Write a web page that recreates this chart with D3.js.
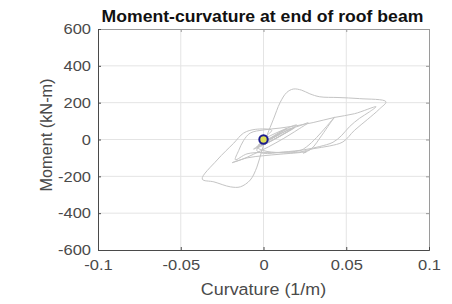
<!DOCTYPE html>
<html lang="en">
<head>
    <meta charset="UTF-8">
    <script src="https://d3js.org/d3.v7.min.js"></script>
    <title>Moment-curvature at end of roof beam</title>
    <style>
        html, body {
            margin: 0;
            padding: 0;
            background-color: #ffffff;
            font-family: "Liberation Sans", Arial, sans-serif;
        }
    </style>
</head>
<body>
    <div id="chart"></div>
    <script>

        // hysteresis path (curvature 1/m, moment kN-m)
        let curvature = [
            0, 0.004, 0.010, 0.014, 0.010, 0.003, -0.003, 0.001, 0.008, 0.016, 0.020,
            0.015, 0.007, -0.001, -0.006, -0.002, 0.006, 0.012, 0.018, 0.013, 0.005,
            0.000, 0.006, 0.015, 0.019, 0.012, 0.004, -0.004, 0.002, 0.010, 0.017, 0.022, 0.027,
            0.021, 0.012, 0.003, -0.006, -0.013, -0.019,
            -0.010, 0.000, 0.010, 0.018, 0.023, 0.026, 0.024, 0.029, 0.035, 0.040, 0.043,
            0.038, 0.032, 0.026, 0.022, 0.010, 0.000, -0.010, -0.017,
            -0.015, -0.012, -0.008, 0.000, 0.010, 0.020, 0.030, 0.043, 0.055, 0.068,
            0.064, 0.058, 0.052, 0.047, 0.042, 0.034, 0.025, 0.012, 0.000, -0.004,
            0.002, 0.005, -0.005, -0.012, -0.018, -0.028, -0.037,
            -0.030, -0.020, -0.014, -0.008, -0.004, -0.001, 0.002, 0.006, 0.010, 0.014, 0.018,
            0.023, 0.028, 0.034, 0.045, 0.058, 0.074,
            0.070, 0.063, 0.055, 0.048, 0.040, 0.030, 0.022, 0.010, 0.000, -0.004,
            0.004, 0.010, 0.005, 0
        ];
        let moment = [
            0, 20, 45, 60, 35, 0, -28, -10, 30, 68, 79,
            45, 5, -35, -52, -30, 15, 48, 62, 35, -5,
            -22, 10, 52, 65, 28, -12, -42, -10, 30, 60, 75, 91,
            55, 5, -40, -80, -108, -126,
            -100, -88, -80, -74, -70, -66, -74, -50, 20, 85, 122,
            70, 10, -40, -60, -70, -70, -78, -110,
            -60, -5, 35, 52, 62, 75, 92, 120, 140, 178,
            150, 115, 70, 20, -15, -38, -55, -68, -75, -60,
            20, 50, 55, 35, -20, -111, -215,
            -230, -257, -257, -220, -150, -60, 20, 110, 200, 255, 274,
            268, 248, 232, 228, 222, 205,
            165, 110, 50, -13, -35, -50, -68, -72, -60, -40,
            0, 30, 10, 0
        ];

        let xTicks = [-0.1, -0.05, 0, 0.05, 0.1];
        let yTicks = [-600, -400, -200, 0, 200, 400, 600];
        let marker = [0, 0];

        let width = 452, height = 304;
        let margin = {top: 29, right: 23, bottom: 54, left: 98};
        let stretch = 1.1; // the picture is a bit wider than tall

        let svg = d3.select('#chart').append('svg')
            .attr('width', width).attr('height', height);

        let x = d3.scaleLinear().domain([-0.1, 0.1]).range([margin.left, width - margin.right]);
        let y = d3.scaleLinear().domain([-600, 600]).range([height - margin.bottom, margin.top]);

        // grid
        svg.append('g').selectAll('line')
            .data(xTicks.slice(1, -1))
            .join('line')
            .attr('x1', d => x(d)).attr('x2', d => x(d))
            .attr('y1', y(-600)).attr('y2', y(600))
            .attr('stroke', '#e4e4e4');
        svg.append('g').selectAll('line')
            .data(yTicks.slice(1, -1))
            .join('line')
            .attr('y1', d => y(d)).attr('y2', d => y(d))
            .attr('x1', x(-0.1)).attr('x2', x(0.1))
            .attr('stroke', '#e4e4e4');

        // box top/right
        svg.append('g')
            .attr('transform', `translate(0,${margin.top})`)
            .call(d3.axisTop(x).tickValues(xTicks).tickSize(-3).tickFormat(''))
            .call(g => g.selectAll('path, line').attr('stroke', '#9a9a9a'));
        svg.append('g')
            .attr('transform', `translate(${width - margin.right},0)`)
            .call(d3.axisRight(y).tickValues(yTicks).tickSize(-3).tickFormat(''))
            .call(g => g.selectAll('path, line').attr('stroke', '#9a9a9a'));

        // hysteresis line
        let pts = curvature.map((c, i) => [c, moment[i]]);
        svg.append('path')
            .datum(pts)
            .attr('d', d3.line().x(d => x(d[0])).y(d => y(d[1])).curve(d3.curveCatmullRom.alpha(0.5)))
            .attr('fill', 'none')
            .attr('stroke', '#c4c4c4')
            .attr('stroke-width', 1);

        // axes
        let xAxis = svg.append('g')
            .attr('transform', `translate(0,${height - margin.bottom})`)
            .call(d3.axisBottom(x).tickValues(xTicks).tickSize(-3).tickPadding(9).tickFormat(d => String(d)));
        let yAxis = svg.append('g')
            .attr('transform', `translate(${margin.left},0)`)
            .call(d3.axisLeft(y).tickValues(yTicks).tickSize(-3).tickPadding(7).tickFormat(d => String(d)));

        [xAxis, yAxis].forEach(g => {
            g.selectAll('path, line').attr('stroke', '#4a4a4a');
            g.selectAll('text')
                .attr('font-family', '"Liberation Sans", Arial, sans-serif')
                .attr('font-size', 15)
                .attr('fill', '#4a4a4a');
        });

        // current point
        svg.append('circle')
            .attr('cx', x(marker[0])).attr('cy', y(marker[1]))
            .attr('r', 4.2)
            .attr('fill', '#dede55')
            .attr('stroke', '#1c1c8e')
            .attr('stroke-width', 2);

        // labels
        svg.append('text')
            .attr('class', 'wide')
            .attr('x', 262.5).attr('y', 22)
            .attr('text-anchor', 'middle')
            .attr('font-size', 16).attr('font-weight', 'bold')
            .attr('fill', '#111')
            .text('Moment-curvature at end of roof beam');

        svg.append('text')
            .attr('class', 'wide')
            .attr('x', x(0)).attr('y', 295)
            .attr('text-anchor', 'middle')
            .attr('font-size', 16.3).attr('fill', '#4a4a4a')
            .text('Curvature (1/m)');

        svg.append('text')
            .attr('transform', `translate(52,135) rotate(-90)`)
            .attr('text-anchor', 'middle')
            .attr('font-size', 16.3).attr('fill', '#4a4a4a')
            .text('Moment (kN-m)');

        // widen horizontal texts a little
        svg.selectAll('text.wide, .tick text').each(function() {
            let w = this.getComputedTextLength();
            if (w > 0) {
                d3.select(this)
                    .attr('textLength', w * stretch)
                    .attr('lengthAdjust', 'spacingAndGlyphs');
            }
        });

    </script>
</body>
</html>
